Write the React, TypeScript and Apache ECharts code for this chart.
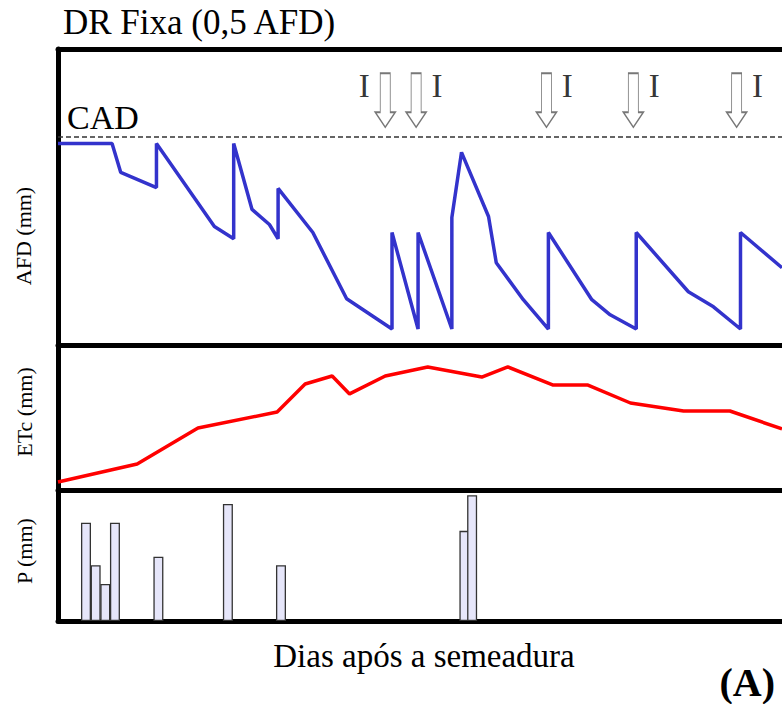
import React, { useEffect, useRef } from "react";
import * as echarts from "echarts";

// AFD (top panel): day after sowing, depletion value
const afdDays = [0, 5.6, 6.5, 10.2, 10.2, 16.2, 18.2, 18.2, 20.1, 21.9, 22.8, 22.8, 26.4, 29.9, 34.6, 34.6, 37.3, 37.3, 40.8, 40.8, 41.8, 44.6, 45.4, 48.2, 50.8, 50.8, 55.3, 57.2, 59.9, 59.9, 65.3, 67.9, 70.7, 70.7, 75];
const afdValues = [68.1, 68.1, 58.3, 53.2, 68.1, 40.0, 35.9, 68.1, 45.8, 40.7, 35.9, 52.9, 38.0, 15.6, 5.4, 38.0, 5.4, 38.0, 5.4, 43.1, 65.1, 43.4, 27.8, 15.3, 5.4, 38.0, 15.3, 10.2, 5.4, 38.0, 18.0, 12.9, 5.4, 38.0, 26.1];
const cadLevel = 70.2;

// Irrigation events
const irrigDays = [33.9, 37.1, 50.6, 59.6, 70.3];
const irrigLabelSide = ["left", "right", "right", "right", "right"];

// ETc (middle panel)
const etcDays = [0, 8.2, 14.5, 22.7, 25.6, 28.4, 30.2, 33.9, 38.3, 43.9, 46.6, 51.3, 54.9, 59.3, 64.8, 69.6, 75];
const etcValues = [0.44, 1.43, 3.42, 4.3, 5.85, 6.29, 5.3, 6.29, 6.79, 6.23, 6.79, 5.79, 5.79, 4.8, 4.36, 4.36, 3.37];

// Precipitation (bottom panel)
const rainDays = [2.9, 3.9, 4.9, 5.9, 10.4, 17.6, 23.1, 42.1, 42.9];
const rainValues = [37.5, 21.3, 14.1, 37.5, 24.5, 44.7, 21.3, 34.4, 48.0];

const SERIF = "'Liberation Serif', 'Times New Roman', serif";
const ARROW = "path://M5,0 L15,0 L15,39 L20,39 L10,54 L0,39 L5,39 Z";

const txt = (text: string, size: number, extra: any = {}) => ({
  text,
  fontFamily: SERIF,
  fontSize: size,
  fill: "#000",
  ...extra,
});

export default function App() {
  const ref = useRef<HTMLDivElement>(null);

  useEffect(() => {
    if (!ref.current) return;
    const chart = echarts.init(ref.current, null, { renderer: "svg" });

    const axisLine = { show: true, lineStyle: { color: "#000", width: 5 } };
    const hidden = {
      axisTick: { show: false },
      axisLabel: { show: false },
      splitLine: { show: false },
    };
    const xBase = (gridIndex: number, position = "bottom") => ({
      type: "value",
      gridIndex,
      min: 0,
      max: 75,
      position,
      axisLine,
      ...hidden,
    });
    const yBase = (gridIndex: number, max: number) => ({
      type: "value",
      gridIndex,
      min: 0,
      max,
      axisLine,
      ...hidden,
    });

    const option: any = {
      animation: false,
      backgroundColor: "#fff",
      grid: [
        { left: 58, right: 0, top: 49, height: 296 },
        { left: 58, right: 0, top: 345, height: 145 },
        { left: 58, right: 0, top: 490, height: 131 },
      ],
      xAxis: [xBase(0), xBase(1), xBase(2), xBase(0, "top")],
      yAxis: [yBase(0, 100), yBase(1, 8), yBase(2, 50)],
      graphic: [
        { type: "text", x: 63, y: 22, style: txt("DR Fixa (0,5 AFD)", 35, { verticalAlign: "middle" }) },
        { type: "text", x: 67, y: 117, style: txt("CAD", 34, { verticalAlign: "middle" }) },
        { type: "text", x: 23, y: 236, rotation: Math.PI / 2, style: txt("AFD (mm)", 22, { align: "center", verticalAlign: "middle" }) },
        { type: "text", x: 24, y: 412, rotation: Math.PI / 2, style: txt("ETc (mm)", 22, { align: "center", verticalAlign: "middle" }) },
        { type: "text", x: 24, y: 551, rotation: Math.PI / 2, style: txt("P (mm)", 22, { align: "center", verticalAlign: "middle" }) },
        { type: "text", x: 424, y: 656, style: txt("Dias após a semeadura", 33, { align: "center", verticalAlign: "middle" }) },
        { type: "text", x: 775, y: 682, style: txt("(A)", 40, { fontWeight: "bold", align: "right", verticalAlign: "middle" }) },
      ],
      series: [
        {
          name: "AFD",
          type: "line",
          xAxisIndex: 0,
          yAxisIndex: 0,
          data: afdDays.map((d, i) => [d, afdValues[i]]),
          showSymbol: false,
          lineStyle: { color: "#3333CC", width: 3.5 },
          markLine: {
            silent: true,
            symbol: "none",
            label: { show: false },
            lineStyle: { color: "#333", width: 1.5, type: [5, 3] },
            data: [{ yAxis: cadLevel }],
          },
          z: 3,
        },
        {
          name: "Irrigação",
          type: "scatter",
          xAxisIndex: 0,
          yAxisIndex: 0,
          symbol: ARROW,
          symbolSize: [20, 54],
          itemStyle: { color: "#fff", borderColor: "#555", borderWidth: 1.3 },
          data: irrigDays.map((d, i) => ({
            value: [d, 82.7],
            label: {
              show: true,
              formatter: "I",
              position: irrigLabelSide[i],
              distance: 5,
              offset: [0, -14],
              color: "#000",
              fontFamily: SERIF,
              fontSize: 33,
            },
          })),
          z: 4,
        },
        {
          name: "ETc",
          type: "line",
          xAxisIndex: 1,
          yAxisIndex: 1,
          data: etcDays.map((d, i) => [d, etcValues[i]]),
          showSymbol: false,
          lineStyle: { color: "#FF0000", width: 3.5 },
        },
        {
          name: "P",
          type: "bar",
          xAxisIndex: 2,
          yAxisIndex: 2,
          barWidth: 10,
          data: rainDays.map((d, i) => [d, rainValues[i]]),
          itemStyle: { color: "#E6E6FA", borderColor: "#333", borderWidth: 1.3 },
        },
      ],
    };

    chart.setOption(option);
    return () => chart.dispose();
  }, []);

  return (
    <div
      ref={ref}
      style={{ position: "fixed", left: 0, top: 0, width: 782, height: 704, background: "#fff" }}
    />
  );
}
